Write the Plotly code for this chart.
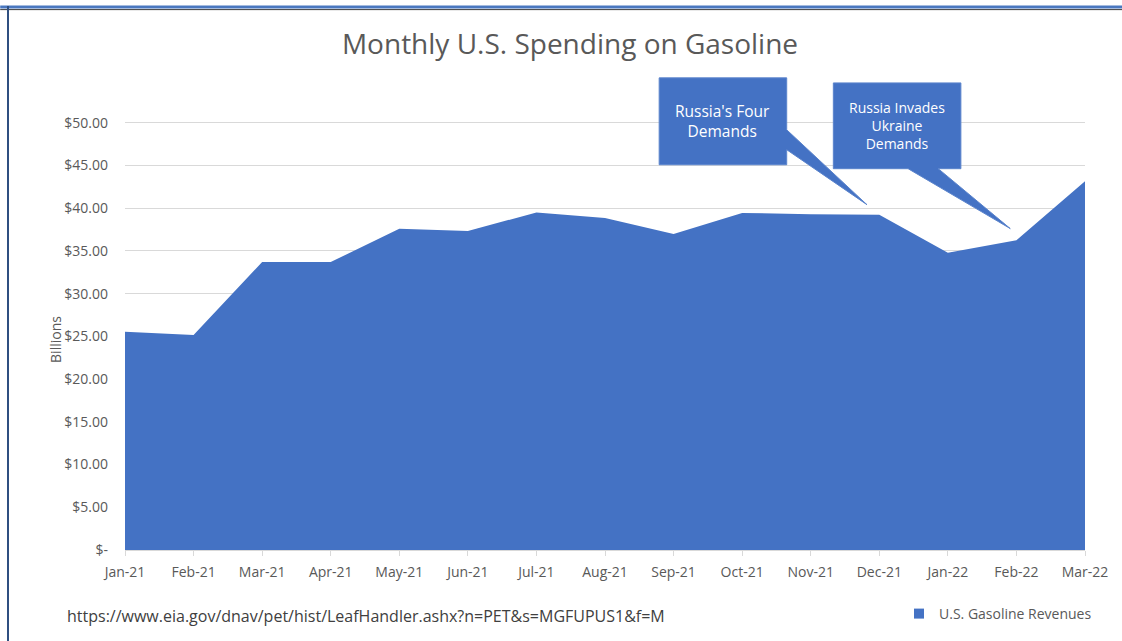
import plotly.graph_objects as go

months = ["Jan-21", "Feb-21", "Mar-21", "Apr-21", "May-21", "Jun-21", "Jul-21",
          "Aug-21", "Sep-21", "Oct-21", "Nov-21", "Dec-21", "Jan-22", "Feb-22", "Mar-22"]
revenues = [25.55, 25.15, 33.7, 33.7, 37.6, 37.35, 39.5, 38.85, 37.0, 39.45,
            39.3, 39.25, 34.8, 36.25, 43.15]
y_tick_vals = [0, 5, 10, 15, 20, 25, 30, 35, 40, 45, 50]
y_tick_text = ["$-", "$5.00", "$10.00", "$15.00", "$20.00", "$25.00", "$30.00",
               "$35.00", "$40.00", "$45.00", "$50.00"]

FONT = "Open Sans"
GREY = "#595959"
BLUE = "#4472C4"
x_idx = list(range(len(months)))

fig = go.Figure()
fig.add_trace(go.Scatter(
    x=x_idx, y=revenues, mode="lines", fill="tozeroy",
    line=dict(width=0, color=BLUE), fillcolor=BLUE,
    name="U.S. Gasoline Revenues", hoverinfo="x+y", showlegend=False))
# legend entry with a square swatch
fig.add_trace(go.Scatter(
    x=[None], y=[None], mode="markers", name="U.S. Gasoline Revenues",
    marker=dict(symbol="square", size=10, color=BLUE), showlegend=True))

# callouts (data-anchored annotation shapes)
c1 = dict(x0=7.79, x1=9.65, y0=45.09, y1=55.26, tip=(10.82, 40.42), base=(49.18, 46.85))
c2 = dict(x0=10.33, x1=12.19, y0=44.63, y1=54.67, tip=(12.91, 37.62), base=(11.86, 11.42))

p1 = (f"M{c1['x0']},{c1['y1']} L{c1['x1']},{c1['y1']} L{c1['x1']},{c1['base'][0]} "
      f"L{c1['tip'][0]},{c1['tip'][1]} L{c1['x1']},{c1['base'][1]} L{c1['x1']},{c1['y0']} "
      f"L{c1['x0']},{c1['y0']} Z")
p2 = (f"M{c2['x0']},{c2['y1']} L{c2['x1']},{c2['y1']} L{c2['x1']},{c2['y0']} "
      f"L{c2['base'][0]},{c2['y0']} L{c2['tip'][0]},{c2['tip'][1]} L{c2['base'][1]},{c2['y0']} "
      f"L{c2['x0']},{c2['y0']} Z")

shapes = [
    dict(type="path", path=p1, xref="x", yref="y", fillcolor=BLUE,
         line=dict(color="#5b84cc", width=1), layer="above"),
    dict(type="path", path=p2, xref="x", yref="y", fillcolor=BLUE,
         line=dict(color="#5b84cc", width=1), layer="above"),
    # frame border
    dict(type="line", xref="paper", yref="paper", x0=-0.13, x1=1.04,
         y0=(551 - 7) / 488, y1=(551 - 7) / 488, line=dict(color="#4a78c0", width=3)),
    dict(type="line", xref="paper", yref="paper", x0=-0.13, x1=1.04,
         y0=(551 - 9.5) / 488, y1=(551 - 9.5) / 488, line=dict(color="#3c3c3c", width=1)),
    dict(type="line", xref="paper", yref="paper", x0=(8 - 125) / 960, x1=(8 - 125) / 960,
         y0=-0.2, y1=(551 - 6) / 488, line=dict(color="#2f4f80", width=2)),
]

annotations = [
    dict(x=(c1["x0"] + c1["x1"]) / 2, y=(c1["y0"] + c1["y1"]) / 2, xref="x", yref="y",
         text="Russia's Four<br>Demands", showarrow=False,
         font=dict(family=FONT, size=15.5, color="white")),
    dict(x=(c2["x0"] + c2["x1"]) / 2, y=(c2["y0"] + c2["y1"]) / 2, xref="x", yref="y",
         text="Russia Invades<br>Ukraine<br>Demands", showarrow=False,
         font=dict(family=FONT, size=14, color="white")),
    dict(x=(44 - 125) / 960, y=(551 - 340) / 488, xref="paper", yref="paper",
         text="Billions", textangle=-90, showarrow=False,
         font=dict(family=FONT, size=14, color=GREY)),
    dict(x=(65 - 125) / 960, y=(551 - 617) / 488, xref="paper", yref="paper",
         xanchor="left", yanchor="middle",
         text="https://www.eia.gov/dnav/pet/hist/LeafHandler.ashx?n=PET&s=MGFUPUS1&f=M",
         showarrow=False, font=dict(family=FONT, size=16, color="#404040")),
]

fig.update_layout(
    width=1122, height=641,
    margin=dict(l=125, r=37, t=63, b=90),
    paper_bgcolor="white", plot_bgcolor="white",
    font=dict(family=FONT, color=GREY),
    title=dict(text="Monthly U.S. Spending on Gasoline", x=570 / 1122, xanchor="center",
               y=1 - 44 / 641, yanchor="middle",
               font=dict(family=FONT, size=28, color=GREY)),
    showlegend=True,
    legend=dict(x=(899 - 125) / 960, y=(551 - 614) / 488, xanchor="left", yanchor="middle",
                orientation="h", font=dict(family=FONT, size=14, color=GREY),
                itemwidth=30, bgcolor="rgba(0,0,0,0)"),
    shapes=shapes, annotations=annotations,
    xaxis=dict(range=[0, 14], tickmode="array", tickvals=x_idx, ticktext=months,
               showgrid=False, zeroline=False, showline=True, linecolor="#d9d9d9",
               ticks="outside", ticklen=5, tickcolor="#d9d9d9", ticklabelstandoff=4,
               tickfont=dict(family=FONT, size=14, color=GREY)),
    yaxis=dict(range=[0, 57], tickmode="array", tickvals=y_tick_vals, ticktext=y_tick_text,
               showgrid=True, gridcolor="#d9d9d9", gridwidth=1, zeroline=False,
               showline=False, ticks="", ticklabelstandoff=16,
               tickfont=dict(family=FONT, size=14, color=GREY)),
)

fig.write_html("out.html", config={"displayModeBar": False},
               post_script="document.body.style.margin='0';")
